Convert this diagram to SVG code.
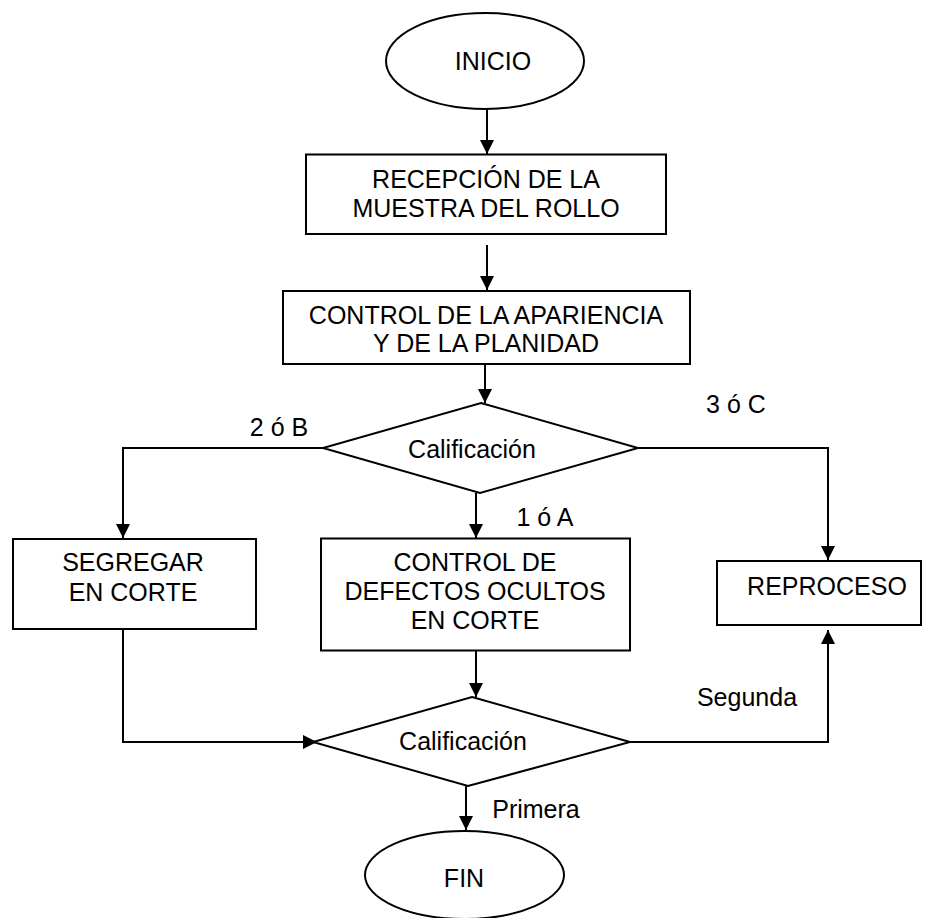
<svg xmlns="http://www.w3.org/2000/svg" width="927" height="918" viewBox="0 0 927 918">
  <style>
    .shape { fill: #ffffff; stroke: #000000; stroke-width: 2; }
    .conn { fill: none; stroke: #000000; stroke-width: 2; marker-end: url(#arrow); }
    .conn-plain { fill: none; stroke: #000000; stroke-width: 2; }
    text { font-family: "Liberation Sans", Arial, sans-serif; font-size: 25px; fill: #000000; }
    .c { text-anchor: middle; }
  </style>
  <defs>
    <marker id="arrow" markerUnits="userSpaceOnUse" markerWidth="14" markerHeight="14" refX="14" refY="7" orient="auto">
      <path d="M0,0 L14,7 L0,14 Z" fill="#000000"/>
    </marker>
  </defs>

  <!-- connectors -->
  <g id="connectors">
    <path class="conn" d="M487,109 V154"/>
    <path class="conn" d="M487,245 V290"/>
    <path class="conn" d="M485,364 V403"/>
    <path class="conn" d="M323,448 H123 V538"/>
    <path class="conn" d="M476,493 V538"/>
    <path class="conn" d="M638,448 H828 V560"/>
    <path class="conn" d="M123,629 V742 H317"/>
    <path class="conn" d="M476,651 V697"/>
    <path class="conn" d="M630,742 H828 V630"/>
    <path class="conn" d="M466,783 V830"/>
    <text x="279" y="436" class="c">2 ó B</text>
    <text x="736" y="413" class="c">3 ó C</text>
    <text x="545" y="526" class="c">1 ó A</text>
    <text x="747" y="706" class="c">Segunda</text>
    <text x="536" y="818" class="c">Primera</text>
  </g>

  <g id="inicio">
    <ellipse class="shape" cx="485" cy="61" rx="99" ry="48"/>
    <text x="493" y="70" class="c">INICIO</text>
  </g>

  <g id="recepcion">
    <rect class="shape" x="306" y="154.5" width="360" height="79.5"/>
    <text x="486" y="188" class="c">RECEPCIÓN DE LA</text>
    <text x="486" y="217" class="c">MUESTRA DEL ROLLO</text>
  </g>

  <g id="control-apariencia">
    <rect class="shape" x="283" y="291" width="407" height="73"/>
    <text x="486" y="324" class="c">CONTROL DE LA APARIENCIA</text>
    <text x="486" y="352" class="c">Y DE LA PLANIDAD</text>
  </g>

  <g id="calificacion-1">
    <polygon class="shape" points="481,403 638,448 480,493 323,448"/>
    <text x="472" y="458" class="c">Calificación</text>
  </g>

  <g id="segregar">
    <rect class="shape" x="13" y="539" width="243" height="90"/>
    <text x="133" y="571" class="c">SEGREGAR</text>
    <text x="133" y="601" class="c">EN CORTE</text>
  </g>

  <g id="control-defectos">
    <rect class="shape" x="321" y="538.5" width="309" height="112"/>
    <text x="475" y="571" class="c">CONTROL DE</text>
    <text x="475" y="600" class="c">DEFECTOS OCULTOS</text>
    <text x="475" y="629" class="c">EN CORTE</text>
  </g>

  <g id="reproceso">
    <rect class="shape" x="717" y="561" width="204" height="64"/>
    <text x="827" y="595" class="c">REPROCESO</text>
  </g>

  <g id="calificacion-2">
    <polygon class="shape" points="472,697 630,742 468,786 313,742"/>
    <text x="463" y="750" class="c">Calificación</text>
  </g>

  <g id="fin">
    <ellipse class="shape" cx="464.5" cy="875" rx="99.5" ry="44"/>
    <text x="464" y="887" class="c">FIN</text>
  </g>
</svg>
